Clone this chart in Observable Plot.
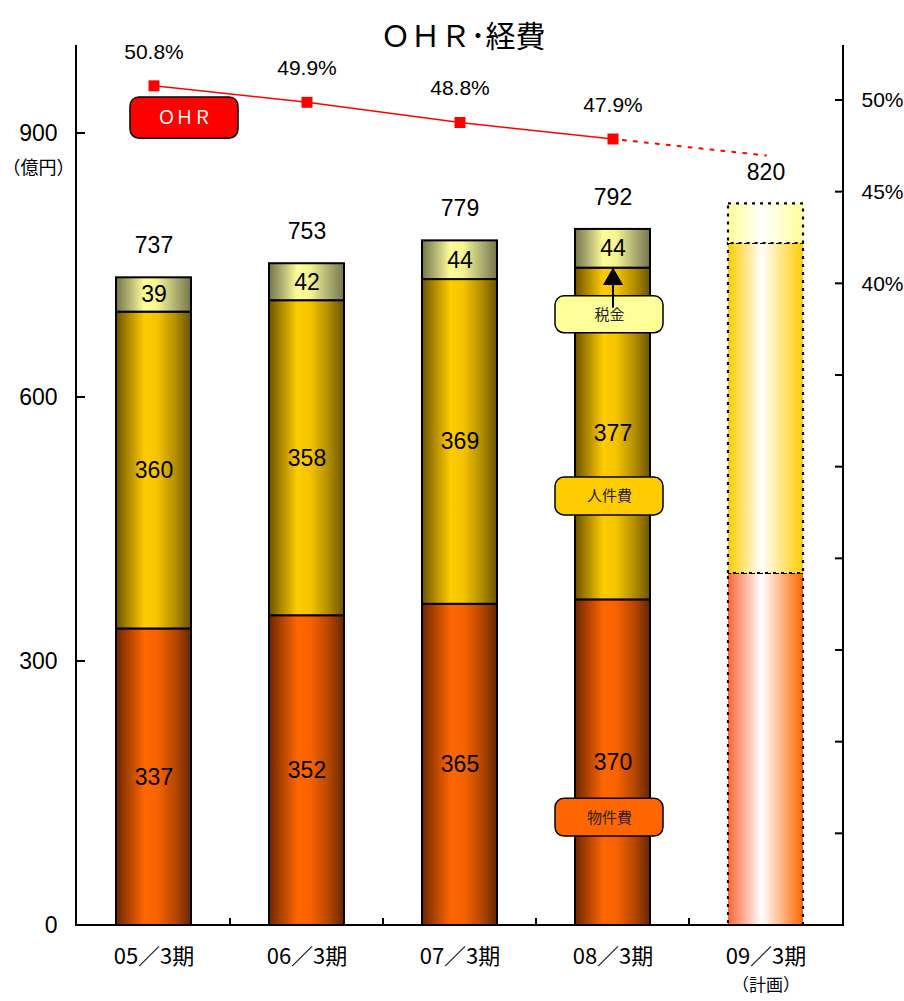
<!DOCTYPE html>
<html>
<head>
<meta charset="utf-8">
<script src="https://cdn.jsdelivr.net/npm/d3@7"></script>
<script src="https://cdn.jsdelivr.net/npm/@observablehq/plot@0.6"></script>
<style>
  html, body { margin: 0; padding: 0; background: #fff; }
  #chart svg { display: block; }
</style>
</head>
<body>
<div id="chart"></div>
<script>
// ---- data ----
const periods = ["05／3期", "06／3期", "07／3期", "08／3期", "09／3期"];
const isPlan = [false, false, false, false, true];
const buppi = [337, 352, 365, 370, 400];   // 物件費
const jinken = [360, 358, 369, 377, 375];  // 人件費
const zeikin = [39, 42, 44, 44, 45];       // 税金
const totals = [737, 753, 779, 792, 820];
const ohr = [50.8, 49.9, 48.8, 47.9, 47.0]; // OHR (%), last one = plan (not labelled)
const leftTicks = [0, 300, 600, 900];
const rightTicks = [10, 15, 20, 25, 30, 35, 40, 45, 50];
const rightLabels = [40, 45, 50];
const categories = ["物件費", "人件費", "税金"];

// ---- scales helpers ----
const Y_MAX = 1000, PCT_MIN = 5, PCT_MAX = 53;
const pctToY = p => (p - PCT_MIN) * Y_MAX / (PCT_MAX - PCT_MIN);

const seriesByCat = {"物件費": buppi, "人件費": jinken, "税金": zeikin};
const rows = [];
periods.forEach((p, i) => {
  let base = 0;
  categories.forEach(c => {
    const v = seriesByCat[c][i];
    rows.push({period: p, cat: c, value: v, y1: base, y2: base + v, plan: isPlan[i]});
    base += v;
  });
});
const actualRows = rows.filter(r => !r.plan);
const planRows = rows.filter(r => r.plan);
const totalRows = periods.map((p, i) => ({period: p, total: totals[i]}));
const ohrRows = periods.map((p, i) => ({period: p, v: ohr[i], plan: isPlan[i]}));
const ohrActual = ohrRows.filter(d => !d.plan);
const lastActual = ohrActual[ohrActual.length - 1];
const ohrForecast = [lastActual, ...ohrRows.filter(d => d.plan)];

const gradActual = {"物件費": "gB", "人件費": "gJ", "税金": "gT"};
const gradPlan = {"物件費": "pB", "人件費": "pJ", "税金": "pT"};

// gradient definitions
function defsMark() {
  const defs = d3.create("svg:defs");
  const grad = (id, stops) => {
    const lg = defs.append("linearGradient").attr("id", id)
      .attr("x1", "0%").attr("x2", "100%").attr("y1", "0%").attr("y2", "0%");
    stops.forEach(([o, c]) => lg.append("stop").attr("offset", o).attr("stop-color", c));
  };
  grad("gB", [[0, "#6a2600"], [0.15, "#a84000"], [0.38, "#ff6600"], [0.55, "#f86300"], [0.8, "#b44600"], [1, "#662600"]]);
  grad("gJ", [[0, "#6b5200"], [0.15, "#a88400"], [0.38, "#ffcc00"], [0.55, "#f5c400"], [0.8, "#b08c00"], [1, "#6b5400"]]);
  grad("gT", [[0, "#76764a"], [0.15, "#a8a870"], [0.38, "#ffff99"], [0.55, "#f5f590"], [0.8, "#adad72"], [1, "#76764c"]]);
  grad("pB", [[0, "#ff6633"], [0.45, "#ffffff"], [1, "#ff6600"]]);
  grad("pJ", [[0, "#ffcc00"], [0.45, "#ffffff"], [1, "#ffcc00"]]);
  grad("pT", [[0, "#ffff99"], [0.45, "#ffffff"], [1, "#ffff99"]]);
  return defs.node();
}

// axes lines and inward ticks
function axesMark(index, scales, values, dims) {
  const y = scales.y, x = scales.x;
  const L = dims.marginLeft, R = dims.width - dims.marginRight;
  const T = dims.marginTop, B = dims.height - dims.marginBottom;
  const g = d3.create("svg:g").attr("stroke", "black").attr("fill", "none");
  g.append("path").attr("stroke-width", 2).attr("d", `M${L},${T}V${B}H${R}V${T}`);
  leftTicks.forEach(v => g.append("line").attr("stroke-width", 2)
    .attr("x1", L).attr("x2", L + 9).attr("y1", y(v)).attr("y2", y(v)));
  rightTicks.forEach(p => g.append("line").attr("stroke-width", 2)
    .attr("x1", R - 8).attr("x2", R).attr("y1", y(pctToY(p))).attr("y2", y(pctToY(p))));
  const step = x.step ? x.step() : (R - L) / periods.length;
  const bw = x.bandwidth ? x.bandwidth() : 0;
  periods.slice(1).forEach(p => {
    const xb = x(p) - (step - bw) / 2;
    g.append("line").attr("stroke-width", 2).attr("x1", xb).attr("x2", xb).attr("y1", B).attr("y2", B - 7);
  });
  return g.node();
}

const jp = "'Noto Sans CJK JP', sans-serif";
const num = "'Liberation Sans', Arial, 'Noto Sans CJK JP', sans-serif";

const chart = Plot.plot({
  width: 904,
  height: 1001,
  marginLeft: 76,
  marginRight: 61,
  marginTop: 45,
  marginBottom: 76,
  x: {domain: periods, paddingInner: 0.51, paddingOuter: 0.255, axis: null},
  y: {domain: [0, Y_MAX], axis: null},
  style: {fontFamily: num, fontSize: "16px", color: "black", background: "white", overflow: "visible"},
  marks: [
    defsMark,
    // actual bars
    ...categories.map(c => Plot.barY(actualRows.filter(r => r.cat === c), {
      x: "period", y1: "y1", y2: "y2", fill: `url(#${gradActual[c]})`, stroke: "black", strokeWidth: 2
    })),
    // plan bars
    ...categories.map(c => Plot.barY(planRows.filter(r => r.cat === c), {
      x: "period", y1: "y1", y2: "y2", fill: `url(#${gradPlan[c]})`, stroke: "black", strokeWidth: 2.2, strokeDasharray: "3,5"
    })),
    axesMark,
    // segment labels
    Plot.text(actualRows, {x: "period", y: r => (r.y1 + r.y2) / 2, text: r => String(r.value), fontSize: 23, fontFamily: num}),
    // totals
    Plot.text(totalRows, {x: "period", y: "total", text: d => String(d.total), dy: -31, fontSize: 23, fontFamily: num}),
    // callouts on 08 bar
    Plot.barY([
      {period: "08／3期", y1: 673, y2: 715, fill: "#ffff99", label: "税金"},
      {period: "08／3期", y1: 466, y2: 509, fill: "#ffcc00", label: "人件費"},
      {period: "08／3期", y1: 101, y2: 144, fill: "#ff6600", label: "物件費"}
    ], {x: "period", y1: "y1", y2: "y2", fill: "fill", stroke: "black", strokeWidth: 1.5, rx: 9,
        insetLeft: -20, insetRight: -13}),
    Plot.text([
      {period: "08／3期", y: 694, label: "税金"},
      {period: "08／3期", y: 487.5, label: "人件費"},
      {period: "08／3期", y: 122.5, label: "物件費"}
    ], {x: "period", y: "y", text: "label", dx: -3.5, fontSize: 15, fill: "#222", fontFamily: jp}),
    // arrow from 税金 callout up to tax segment
    Plot.ruleX([actualRows.find(r => r.period === "08／3期" && r.cat === "税金")], {
      x: "period", y1: 715, y2: r => r.y1, dy: 12, stroke: "black", strokeWidth: 2
    }),
    Plot.dot([actualRows.find(r => r.period === "08／3期" && r.cat === "税金")], {
      x: "period", y: "y1", dy: 11, symbol: "triangle", r: 7.5, fill: "black", stroke: "none"
    }),
    // OHR callout
    Plot.barY([{period: "05／3期", y1: 894, y2: 941}], {
      x: "period", y1: "y1", y2: "y2", fill: "#ff0000", stroke: "black", strokeWidth: 1.5, rx: 9,
      insetLeft: 14, insetRight: -47
    }),
    Plot.text([{period: "05／3期", y: 917.5}], {x: "period", y: "y", text: () => "ＯＨＲ", dx: 30.5, fontSize: 18, fill: "white", fontFamily: jp}),
    // OHR line
    Plot.line(ohrActual, {x: "period", y: d => pctToY(d.v), stroke: "#ff0000", strokeWidth: 1.5}),
    Plot.line(ohrForecast, {x: "period", y: d => pctToY(d.v), stroke: "#ff0000", strokeWidth: 2, strokeDasharray: "3,8", strokeDashoffset: -10}),
    Plot.dot(ohrActual, {x: "period", y: d => pctToY(d.v), symbol: "square", r: 6.2, fill: "#ff0000", stroke: "none"}),
    Plot.text(ohrActual, {x: "period", y: d => pctToY(d.v), text: d => d.v.toFixed(1) + "%", dy: -34, fontSize: 21, fontFamily: num}),
    // left axis labels
    Plot.text(leftTicks, {y: d => d, text: d => String(d), frameAnchor: "left", dx: -19, textAnchor: "end", fontSize: 23, fontFamily: num}),
    Plot.text([900], {y: d => d, text: () => "（億円）", frameAnchor: "left", dx: -38, dy: 35, textAnchor: "middle", fontSize: 18, fontFamily: jp}),
    // right axis labels
    Plot.text(rightLabels, {y: d => pctToY(d), text: d => d + "%", frameAnchor: "right", dx: 18, textAnchor: "start", fontSize: 21, fontFamily: num}),
    // x labels
    Plot.text(periods, {x: d => d, text: d => d, frameAnchor: "bottom", dy: 38, fontSize: 22, fontFamily: jp}),
    Plot.text(periods.filter((p, i) => isPlan[i]), {x: d => d, text: () => "（計画）", frameAnchor: "bottom", dy: 65, fontSize: 17, fontFamily: jp}),
    // title
    Plot.text(["ＯＨＲ･経費"], {frameAnchor: "top", dy: -20, dx: 3, text: d => d, fontSize: 30, fontFamily: jp})
  ]
});
document.getElementById("chart").appendChild(chart);
</script>
</body>
</html>
